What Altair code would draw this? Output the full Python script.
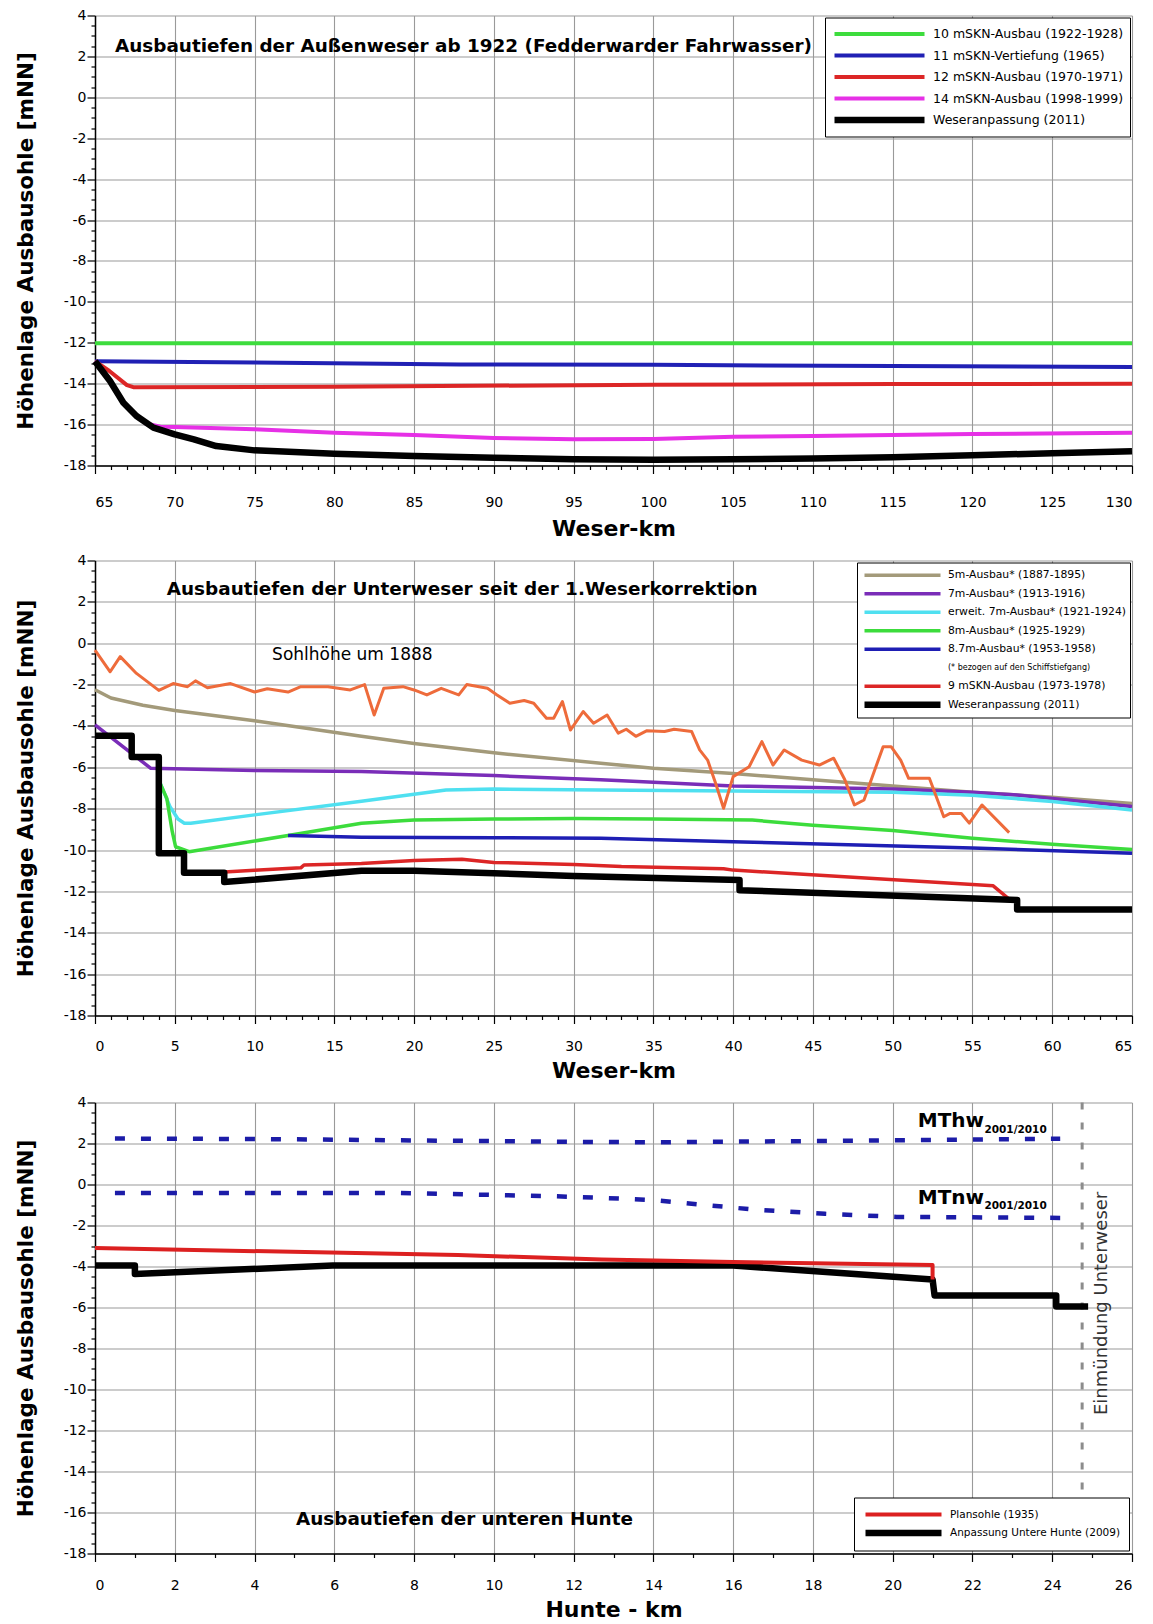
import altair as alt
import pandas as pd

FONT = "DejaVu Sans"
GRID = "#9a9a9a"

# ---------------- Panel 1 : Außenweser (Weser-km 65-130) ----------------
P1_NAMES = ["10 mSKN-Ausbau (1922-1928)", "11 mSKN-Vertiefung (1965)",
            "12 mSKN-Ausbau (1970-1971)", "14 mSKN-Ausbau (1998-1999)",
            "Weseranpassung (2011)"]
P1_COLORS = ["#3ddc3d", "#2020b4", "#dc2626", "#e630e6", "#000000"]
P1_WIDTHS = [4, 4, 4, 4, 6.5]

P1_GREEN_KM = [65, 130]
P1_GREEN_H = [-12.02, -12.02]
P1_BLUE_KM = [65, 75, 87.9, 100, 115, 130]
P1_BLUE_H = [-12.9, -12.96, -13.06, -13.08, -13.14, -13.18]
P1_RED_KM = [65, 65.9, 67, 67.4, 80, 100, 115, 130]
P1_RED_H = [-12.9, -13.38, -14.07, -14.17, -14.15, -14.05, -14.02, -14.0]
P1_MAG_KM = [65, 65.94, 66.78, 67.6, 68.2, 69.1, 70, 75, 80, 85, 90, 95, 100, 105, 110, 120, 130]
P1_MAG_H = [-12.9, -13.87, -14.93, -15.58, -15.95, -16.1, -16.12, -16.23, -16.4, -16.51,
            -16.65, -16.72, -16.7, -16.6, -16.56, -16.46, -16.4]
P1_BLK_KM = [65, 65.94, 66.78, 67.6, 68.66, 70, 71.2, 72.6, 75, 80, 85, 90, 95, 100,
             105, 110, 115, 120, 125, 130]
P1_BLK_H = [-12.9, -13.87, -14.93, -15.58, -16.15, -16.48, -16.72, -17.05, -17.26, -17.42,
            -17.54, -17.62, -17.7, -17.72, -17.7, -17.66, -17.6, -17.5, -17.4, -17.3]
P1_TITLE = "Ausbautiefen der Außenweser ab 1922 (Fedderwarder Fahrwasser)"
P1_TITLE_POS = [66.25, 2.5]

# ---------------- Panel 2 : Unterweser (Weser-km 0-65) ----------------
P2_FOOT = "(* bezogen auf den Schiffstiefgang)"
P2_NAMES = ["5m-Ausbau* (1887-1895)", "7m-Ausbau* (1913-1916)",
            "erweit. 7m-Ausbau* (1921-1924)", "8m-Ausbau* (1925-1929)",
            "8.7m-Ausbau* (1953-1958)", P2_FOOT,
            "9 mSKN-Ausbau (1973-1978)", "Weseranpassung (2011)"]
P2_COLORS = ["#a39a7a", "#7a2db8", "#4fe0f0", "#3cdc3c", "#1e1eb4",
             "rgba(0,0,0,0)", "#dc2626", "#000000"]
P2_WIDTHS = [3.5, 3.5, 3.5, 3.5, 3.5, 0, 3.5, 6.5]

P2_TAN_KM = [0, 1, 3, 5, 10, 16.7, 20, 25, 31.7, 35, 40, 45, 50, 55, 60, 65]
P2_TAN_H = [-2.25, -2.65, -3.0, -3.25, -3.75, -4.5, -4.85, -5.3, -5.8, -6.05, -6.3,
            -6.6, -6.9, -7.2, -7.45, -7.75]
P2_PUR_KM = [0, 3.5, 10, 16.7, 25, 31.7, 40, 50, 55, 57.8, 65]
P2_PUR_H = [-3.95, -6.05, -6.15, -6.2, -6.4, -6.6, -6.9, -7.05, -7.2, -7.34, -7.9]
P2_CYA_KM = [4.1, 4.7, 5.2, 5.6, 6, 10, 16.7, 22, 25, 31.7, 40, 50, 55, 60, 65]
P2_CYA_H = [-6.8, -7.9, -8.5, -8.7, -8.7, -8.3, -7.64, -7.1, -7.05, -7.1, -7.15, -7.2,
            -7.35, -7.65, -8.06]
P2_GRE_KM = [4.1, 4.5, 4.84, 5.05, 5.9, 12.1, 16.7, 20, 25, 30, 35, 41.2, 45, 50, 55, 60, 65]
P2_GRE_H = [-6.8, -7.5, -9.1, -9.84, -10.08, -9.3, -8.7, -8.55, -8.5, -8.47, -8.5, -8.55,
            -8.8, -9.06, -9.43, -9.72, -9.97]
P2_BLU_KM = [12.1, 16.7, 25, 31.7, 40, 55, 65]
P2_BLU_H = [-9.3, -9.38, -9.4, -9.43, -9.6, -9.9, -10.16]
P2_RED_KM = [8.1, 10, 12.9, 13.1, 16.7, 20, 23, 25, 30, 33, 39.4, 40, 56.3, 57.5]
P2_RED_H = [-11.06, -10.98, -10.86, -10.72, -10.65, -10.5, -10.45, -10.6, -10.7, -10.8,
            -10.9, -10.97, -11.73, -12.5]
P2_BLK_KM = [0, 2.3, 2.3, 4.0, 4.0, 5.58, 5.58, 8.1, 8.1, 16.7, 20, 30, 40.4, 40.4,
             57.8, 57.8, 65]
P2_BLK_H = [-4.47, -4.47, -5.5, -5.5, -10.16, -10.16, -11.1, -11.1, -11.55, -11.0, -11.0,
            -11.25, -11.45, -11.94, -12.42, -12.87, -12.87]
P2_SOHLE_KM = [0, 0.95, 1.58, 2.6, 4.0, 4.9, 5.8, 6.3, 7.05, 8.5, 10, 10.8, 12.1, 12.9,
               14.6, 16.0, 16.9, 17.5, 18.1, 19.3, 20, 20.8, 21.7, 22.8, 23.3, 24.6, 25.2,
               26, 26.9, 27.5, 28.3, 28.75, 29.3, 29.8, 30.6, 31.25, 32.1, 32.8, 33.3,
               33.9, 34.6, 35.7, 36.3, 37.4, 37.9, 38.4, 38.9, 39.4, 40, 41, 41.8, 42.5,
               43.2, 44.3, 45.4, 46.3, 47, 47.6, 48.2, 49.4, 49.9, 50.5, 51, 52.3, 52.5,
               53.2, 53.6, 54.3, 54.8, 55.6, 57.3]
P2_SOHLE_H = [-0.33, -1.38, -0.65, -1.46, -2.28, -1.95, -2.1, -1.82, -2.15, -1.95, -2.36,
              -2.2, -2.36, -2.1, -2.1, -2.26, -2.0, -3.47, -2.18, -2.1, -2.26, -2.5,
              -2.18, -2.5, -2.0, -2.18, -2.5, -2.9, -2.77, -2.9, -3.63, -3.63, -2.82,
              -4.2, -3.3, -3.87, -3.47, -4.35, -4.16, -4.5, -4.23, -4.27, -4.16, -4.27,
              -5.16, -5.65, -6.77, -7.98, -6.45, -5.97, -4.76, -5.89, -5.16, -5.65,
              -5.89, -5.56, -6.6, -7.82, -7.58, -5.0, -5.0, -5.65, -6.53, -6.53, -6.94,
              -8.39, -8.23, -8.23, -8.7, -7.82, -9.16]
P2_TITLE = "Ausbautiefen der Unterweser seit der 1.Weserkorrektion"
P2_TITLE_POS = [4.5, 2.64]
P2_SOHLE_LABEL = "Sohlhöhe um 1888"
P2_SOHLE_POS = [11.1, -0.55]

# ---------------- Panel 3 : Hunte (Hunte-km 0-26) ----------------
P3_NAMES = ["Plansohle (1935)", "Anpassung Untere Hunte (2009)"]
P3_COLORS = ["#dc2020", "#000000"]
P3_WIDTHS = [4, 6.5]
P3_RED_KM = [0, 9.1, 12.7, 16, 21.0, 21.0]
P3_RED_H = [-3.1, -3.44, -3.66, -3.78, -3.93, -4.63]
P3_BLK_KM = [0, 1.0, 1.0, 5.96, 16.0, 21.0, 21.05, 24.1, 24.1, 24.9]
P3_BLK_H = [-3.95, -3.95, -4.37, -3.95, -3.95, -4.63, -5.41, -5.41, -5.95, -5.95]
P3_MTHW_KM = [0.5, 4, 8, 12, 14, 18, 24.2]
P3_MTHW_H = [2.24, 2.22, 2.15, 2.08, 2.06, 2.12, 2.23]
P3_MTNW_KM = [0.5, 7.5, 11.5, 12.7, 14, 15.2, 16.5, 18.3, 20.1, 24.2]
P3_MTNW_H = [-0.41, -0.41, -0.57, -0.65, -0.76, -0.98, -1.22, -1.43, -1.58, -1.63]
P3_MOUTH_KM = [24.75]
P3_TITLE = "Ausbautiefen der unteren Hunte"
P3_TITLE_POS = [5.04, -16.3]
P3_MAIN_LABELS = ["MThw", "MTnw"]
P3_MAIN_POS = [[20.63, 3.09], [20.63, -0.65]]
P3_SUB_LABELS = ["2001/2010", "2001/2010"]
P3_SUB_POS = [[22.3, 2.65], [22.3, -1.07]]
P3_MOUTH_LABEL = "Einmündung Unterweser"
P3_MOUTH_POS = [25.25, -5.8]

Y_MAJOR = [-18, -16, -14, -12, -10, -8, -6, -4, -2, 0, 2, 4]
Y_TICKS = [v / 2 for v in range(2 * Y_MAJOR[0], 2 * Y_MAJOR[-1] + 1)]
Y_TITLE = "Höhenlage Ausbausohle [mNN]"


def long_df(names, kms_list, hs_list):
    rows = []
    for name, kms, hs in zip(names, kms_list, hs_list):
        for i, (k, h) in enumerate(zip(kms, hs)):
            rows.append({"series": name, "km": k, "h": h, "i": i})
    return pd.DataFrame(rows)


def single_df(kms, hs):
    return pd.DataFrame({"km": kms, "h": hs, "i": list(range(len(kms)))})


def x_enc(lo, hi, major, title, label_pad, title_pad):
    test = f"datum.value % {major} === 0"
    axis = alt.Axis(
        values=list(range(lo, hi + 1)), title=title, labelExpr=f"{test} ? '' + datum.value : ''",
        labelOverlap=False, labelFontSize=14, labelPadding=label_pad,
        gridOpacity={"condition": {"test": test, "value": 1}, "value": 0},
        tickSize={"condition": {"test": test, "value": 8}, "value": 4},
        titleFontSize=22, titleFontWeight="bold", titlePadding=title_pad)
    return alt.X("km:Q", scale=alt.Scale(domain=[lo, hi], nice=False, zero=False), axis=axis)


def y_enc():
    test = "datum.value % 2 === 0"
    axis = alt.Axis(
        values=Y_TICKS, title=Y_TITLE, labelExpr=f"{test} ? '' + datum.value : ''",
        labelOverlap=False, labelFontSize=14, labelPadding=1,
        gridOpacity={"condition": {"test": test, "value": 1}, "value": 0},
        tickSize={"condition": {"test": test, "value": 8}, "value": 4},
        titleFontSize=21.5, titleFontWeight="bold", titlePadding=26)
    return alt.Y("h:Q", scale=alt.Scale(domain=[Y_MAJOR[0], Y_MAJOR[-1]], nice=False, zero=False),
                 axis=axis)


def series_layer(df, xe, names, colors, widths, legend):
    return alt.Chart(df).mark_line(strokeJoin="round", strokeCap="butt").encode(
        x=xe, y=y_enc(),
        color=alt.Color("series:N", scale=alt.Scale(domain=names, range=colors), legend=legend),
        strokeWidth=alt.StrokeWidth("series:N",
                                    scale=alt.Scale(type="ordinal", domain=names, range=widths),
                                    legend=legend),
        order=alt.Order("i:Q"),
    )


def text_layer(xe, pos_list, texts, **style):
    df = pd.DataFrame({"km": [p[0] for p in pos_list], "h": [p[1] for p in pos_list], "t": texts})
    return alt.Chart(df).mark_text(baseline="middle", **style).encode(
        x=xe, y=y_enc(), text="t:N")


def legend(orient, sym_len, label_size, clip_h, label_off, pad, offset):
    return alt.Legend(title=None, orient=orient, offset=offset, fillColor="white",
                      strokeColor="black", padding=pad, symbolSize=sym_len * sym_len,
                      symbolType="stroke", clipHeight=clip_h, rowPadding=0.5,
                      labelOffset=label_off, labelFont=FONT, labelFontSize=label_size,
                      labelLimit=500, labelColor="black")


# ---- panel 1
xe1 = x_enc(65, 130, 5, "Weser-km", 22, 9)
df1 = long_df(P1_NAMES, [P1_GREEN_KM, P1_BLUE_KM, P1_RED_KM, P1_MAG_KM, P1_BLK_KM],
              [P1_GREEN_H, P1_BLUE_H, P1_RED_H, P1_MAG_H, P1_BLK_H])
p1 = alt.layer(
    series_layer(df1, xe1, P1_NAMES, P1_COLORS, P1_WIDTHS,
                 legend("top-right", 90, 12.5, 21, 5, 6, 2)),
    text_layer(xe1, [P1_TITLE_POS], [P1_TITLE], align="left", fontSize=18.4, fontWeight="bold"),
).properties(width=1037, height=450)

# ---- panel 2
xe2 = x_enc(0, 65, 5, "Weser-km", 16, 7)
df2 = long_df(P2_NAMES,
              [P2_TAN_KM, P2_PUR_KM, P2_CYA_KM, P2_GRE_KM, P2_BLU_KM, [], P2_RED_KM, P2_BLK_KM],
              [P2_TAN_H, P2_PUR_H, P2_CYA_H, P2_GRE_H, P2_BLU_H, [], P2_RED_H, P2_BLK_H])
leg2 = legend("top-right", 76, {"expr": f"datum.label === '{P2_FOOT}' ? 8 : 10.8"}, 17.5, 4, 4, 2)
p2 = alt.layer(
    series_layer(df2, xe2, P2_NAMES, P2_COLORS, P2_WIDTHS, leg2),
    alt.Chart(single_df(P2_SOHLE_KM, P2_SOHLE_H)).mark_line(
        color="#ee6b3b", strokeWidth=3, strokeJoin="round").encode(
        x=xe2, y=y_enc(), order=alt.Order("i:Q")),
    text_layer(xe2, [P2_TITLE_POS], [P2_TITLE], align="left", fontSize=18.4, fontWeight="bold"),
    text_layer(xe2, [P2_SOHLE_POS], [P2_SOHLE_LABEL], align="left", fontSize=17),
).properties(width=1037, height=455)

# ---- panel 3
xe3 = x_enc(0, 26, 2, "Hunte - km", 17, 7)
df3 = long_df(P3_NAMES[::-1], [P3_BLK_KM, P3_RED_KM], [P3_BLK_H, P3_RED_H])
p3 = alt.layer(
    alt.Chart(pd.DataFrame({"km": P3_MOUTH_KM})).mark_rule(
        color="#8c8c8c", strokeWidth=3, strokeDash=[7, 13]).encode(x=xe3),
    alt.Chart(single_df(P3_MTHW_KM, P3_MTHW_H)).mark_line(
        color="#1c1ca8", strokeWidth=4.5, strokeDash=[10, 16]).encode(
        x=xe3, y=y_enc(), order=alt.Order("i:Q")),
    alt.Chart(single_df(P3_MTNW_KM, P3_MTNW_H)).mark_line(
        color="#1c1ca8", strokeWidth=4.5, strokeDash=[10, 16]).encode(
        x=xe3, y=y_enc(), order=alt.Order("i:Q")),
    series_layer(df3, xe3, P3_NAMES, P3_COLORS, P3_WIDTHS,
                 legend("bottom-right", 76, 10.5, 18, 5, 8, 3)),
    text_layer(xe3, [P3_TITLE_POS], [P3_TITLE], align="left", fontSize=18.4, fontWeight="bold"),
    text_layer(xe3, P3_MAIN_POS, P3_MAIN_LABELS, align="left", fontSize=20, fontWeight="bold"),
    text_layer(xe3, P3_SUB_POS, P3_SUB_LABELS, align="left", fontSize=10.5, fontWeight="bold"),
    text_layer(xe3, [P3_MOUTH_POS], [P3_MOUTH_LABEL], align="center", angle=270, fontSize=18,
               color="#333333"),
).properties(width=1037, height=451)

chart = alt.vconcat(p1, p2, p3, spacing=14).resolve_scale(
    x="independent", y="independent", color="independent", strokeWidth="independent"
).properties(
    padding={"left": 15, "right": 4, "top": 8.5, "bottom": 4}
).configure(font=FONT).configure_view(strokeWidth=0).configure_axis(
    gridColor=GRID, gridWidth=1.1, domainColor="black", domainWidth=1.5,
    tickColor="black", tickWidth=1.2, labelColor="black", titleColor="black",
    labelFont=FONT, titleFont=FONT,
).configure_text(font=FONT, color="black")

chart.save("out.html", embed_options={"renderer": "svg", "actions": False})
